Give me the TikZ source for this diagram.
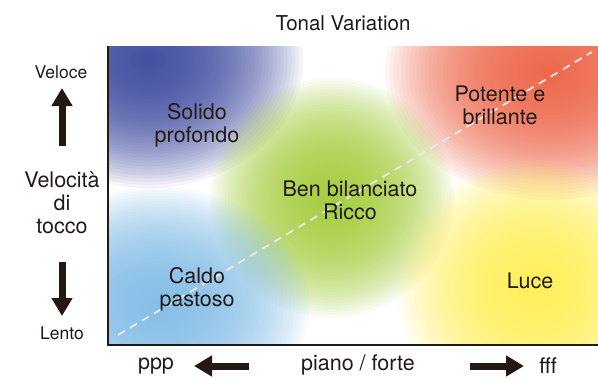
\documentclass[tikz,border=0pt]{standalone}
\usepackage{fontspec}
\setmainfont{TeX Gyre Heros}
\usetikzlibrary{arrows.meta}
\definecolor{ink}{HTML}{231815}
\definecolor{cpurple}{HTML}{3E4A9E}
\definecolor{cred}{HTML}{EC6447}
\definecolor{cgreen}{HTML}{A3CC3C}
\definecolor{cyellow}{HTML}{FFEE55}
\definecolor{cblue}{HTML}{82BCE6}
\newcommand{\myblob}[5]{%
  \foreach \k in {1,...,60}{%
    \pgfmathsetmacro{\ff}{(\k/60)^1.5}%
    \fill[#1, opacity=0.06] (#2,#3) ellipse ({#4*\ff} and {#5*\ff});
  }}
\begin{document}
\begin{tikzpicture}[x=1pt,y=-1pt,
  lbl/.style={text=ink, font=\fontsize{21.5}{23}\selectfont, align=center, inner sep=0pt},
  small/.style={text=ink, font=\fontsize{17.5}{20}\selectfont, inner sep=0pt},
  axis/.style={draw=ink, line width=2pt},
  bigarrow/.style={draw=ink, line width=7pt, -{Triangle[length=18pt,width=20pt]}}]
\useasboundingbox (0,0) rectangle (598,378);
\coordinate (tl) at (108,46);
\coordinate (br) at (598,345);
\begin{scope}
\clip (tl) rectangle (br);
\myblob{cpurple}{148}{60}{155}{128}
\myblob{cred}{550}{72}{165}{128}
\myblob{cgreen}{332}{198}{122}{120}
\myblob{cyellow}{535}{288}{138}{128}
\myblob{cblue}{158}{305}{152}{118}
\end{scope}
\coordinate (d1) at (118,335);
\coordinate (d2) at (592,52);
\draw[white!82!gray, line width=1.8pt, dash pattern=on 8pt off 6pt] (d1) -- (d2);
\draw[axis] (108,46) -- (108,345) -- (598,345);
\node[text=ink, font=\fontsize{20.5}{22}\selectfont, inner sep=0pt] (title) at (343,23) {Tonal Variation};
\node[small] (veloce) at (61,72) {Veloce};
\node[small] (lento) at (62,333) {Lento};
\node[lbl] (vel) at (62,203) {Velocità\\di\\tocco};
\coordinate (ua) at (62,146);
\coordinate (ub) at (62,88);
\draw[bigarrow] (ua) -- (ub);
\coordinate (da) at (62,262);
\coordinate (db) at (62,316);
\draw[bigarrow] (da) -- (db);
\node[lbl] (ppp) at (156,366) {ppp};
\node[lbl] (pf) at (358,365) {piano / forte};
\node[lbl] (fff) at (548,366) {fff};
\coordinate (la) at (249,366);
\coordinate (lb) at (194,366);
\draw[bigarrow] (la) -- (lb);
\coordinate (ra) at (470,366);
\coordinate (rb) at (524,366);
\draw[bigarrow] (ra) -- (rb);
\node[lbl] (solido) at (197,125) {Solido\\profondo};
\node[lbl] (potente) at (500,105) {Potente e\\brillante};
\node[lbl] (ben) at (350,200) {Ben bilanciato\\Ricco};
\node[lbl] (caldo) at (197,289) {Caldo\\pastoso};
\node[lbl] (luce) at (530,281) {Luce};
\end{tikzpicture}
\end{document}
